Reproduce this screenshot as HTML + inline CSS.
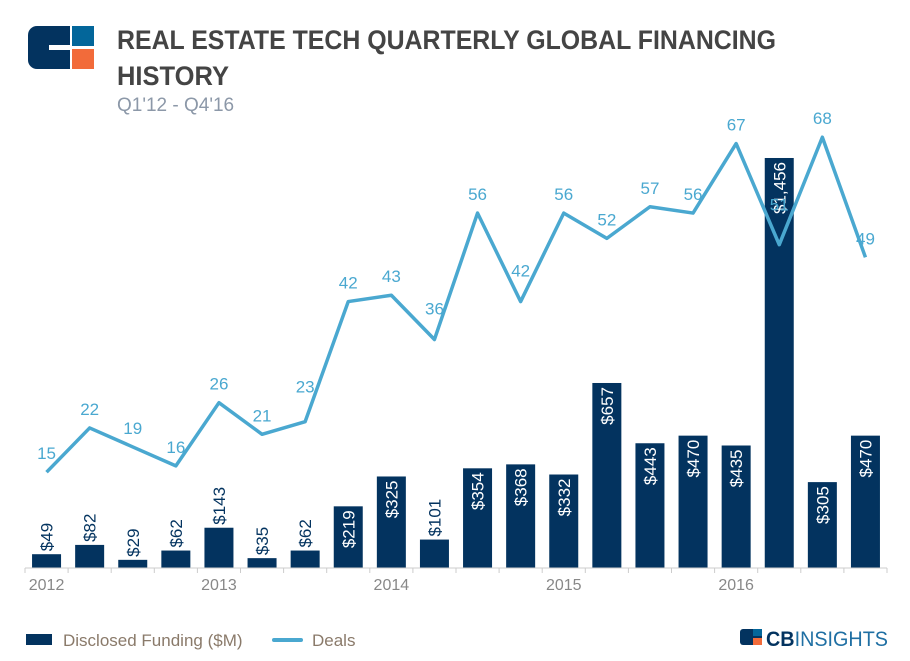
<!DOCTYPE html>
<html><head><meta charset="utf-8"><style>
html,body{margin:0;padding:0;background:#fff;}
svg{display:block;font-family:"Liberation Sans",sans-serif;}
</style></head><body>
<svg id="chart" width="910" height="661" viewBox="0 0 910 661">
  <g>
    <rect x="28" y="26" width="66" height="43" rx="9" fill="#03335f"/>
    <rect x="72" y="26" width="22" height="20" fill="#03669a"/>
    <rect x="72" y="49" width="22" height="20" fill="#f26b3a"/>
    <rect x="70" y="26" width="2" height="43" fill="#fff"/>
    <rect x="72" y="46" width="22" height="3" fill="#fff"/>
    <rect x="49" y="45" width="21" height="5" fill="#fff"/>
  </g>
  <text x="117" y="49" font-size="27" font-weight="bold" fill="#444" textLength="659" lengthAdjust="spacingAndGlyphs">REAL ESTATE TECH QUARTERLY GLOBAL FINANCING</text>
  <text x="117" y="85" font-size="27" font-weight="bold" fill="#444" textLength="112" lengthAdjust="spacingAndGlyphs">HISTORY</text>
  <text x="117" y="111" font-size="19" fill="#8c98a8">Q1'12 - Q4'16</text>
  <g id="plot"></g>
  <g>
    <rect x="26" y="634" width="26" height="11" fill="#03335f"/>
    <text x="63" y="646" font-size="17" fill="#8a7a6a">Disclosed Funding ($M)</text>
    <line x1="274" y1="640" x2="301" y2="640" stroke="#4aa8d0" stroke-width="4" stroke-linecap="round"/>
    <text x="312" y="646" font-size="17" fill="#8a7a6a">Deals</text>
  </g>
  <g>
    <rect x="740" y="629" width="22" height="16" rx="3" fill="#03335f"/>
    <rect x="753" y="629" width="9" height="7" fill="#03669a"/>
    <rect x="753" y="638" width="9" height="7" fill="#f26b3a"/>
    <text x="766" y="646" font-size="21" font-weight="bold" fill="#03335f" textLength="122" lengthAdjust="spacingAndGlyphs">CB<tspan font-weight="normal" fill="#1f6fa3">INSIGHTS</tspan></text>
  </g>
</svg>
<script>
const quarters = ["Q1'12","Q2'12","Q3'12","Q4'12","Q1'13","Q2'13","Q3'13","Q4'13","Q1'14","Q2'14","Q3'14","Q4'14","Q1'15","Q2'15","Q3'15","Q4'15","Q1'16","Q2'16","Q3'16","Q4'16"];
const funding = [49,82,29,62,143,35,62,219,325,101,354,368,332,657,443,470,435,1456,305,470];
const deals = [15,22,19,16,26,21,23,42,43,36,56,42,56,52,57,56,67,51,68,49];
const yearLabels = ["2012","2013","2014","2015","2016"];

const NS="http://www.w3.org/2000/svg";
const plot=document.getElementById('plot');
const x0=25, step=43.1, base=568;
const xC=i=>x0+step*(i+0.5);
const yF=v=>base-v*0.2816;
const yD=d=>567-d*6.32;
function mk(tag,attrs){const e=document.createElementNS(NS,tag);for(const k in attrs)e.setAttribute(k,attrs[k]);plot.appendChild(e);return e;}

funding.forEach((v,i)=>{
  const r=mk('rect',{x:xC(i)-14.5,y:yF(v),width:29,height:base-yF(v),fill:'#03335f'});
  
  
  const lab='$'+v.toLocaleString('en-US');
  const h=base-yF(v);
  const inside=h>60;
  const t=mk('text',{'font-size':17,fill:inside?'#fff':'#03335f'});
  const cx=xC(i)+6;
  let ty;
  if(inside){ty=yF(v)+4;t.setAttribute('text-anchor','end');}
  else{ty=yF(v)-3;t.setAttribute('text-anchor','start');}
  t.setAttribute('transform','translate('+cx+','+ty+') rotate(-90)');
  t.textContent=lab;
  
  
});

const axis=mk('line',{x1:x0,y1:base,x2:x0+step*20,y2:base,stroke:'#ccc','stroke-width':1});


for(let i=0;i<=20;i++){
  const tk=mk('line',{x1:x0+step*i,y1:base,x2:x0+step*i,y2:base+5,stroke:'#ccc','stroke-width':1});
  
  
}
yearLabels.forEach((y,j)=>{
  const t=mk('text',{x:xC(j*4),y:590,'font-size':16,fill:'#888','text-anchor':'middle'});
  t.textContent=y;
  
  
});

const pts=deals.map((d,i)=>xC(i)+','+yD(d)).join(' ');
const line=mk('polyline',{points:pts,fill:'none',stroke:'#4aa8d0','stroke-width':3.5,'stroke-linejoin':'round'});


deals.forEach((d,i)=>{
  // label placement: farther above where the line climbs steeply toward the point
  let off=19;
  if(i===6) off=35;
  if(i===9||i===11) off=31;
  if(i===17) off=40;
  const t=mk('text',{x:xC(i),y:yD(d)-off+6,'font-size':17,fill:'#4aa8d0','text-anchor':'middle'});
  t.textContent=d;
  
  
});
</script>
</body></html>
